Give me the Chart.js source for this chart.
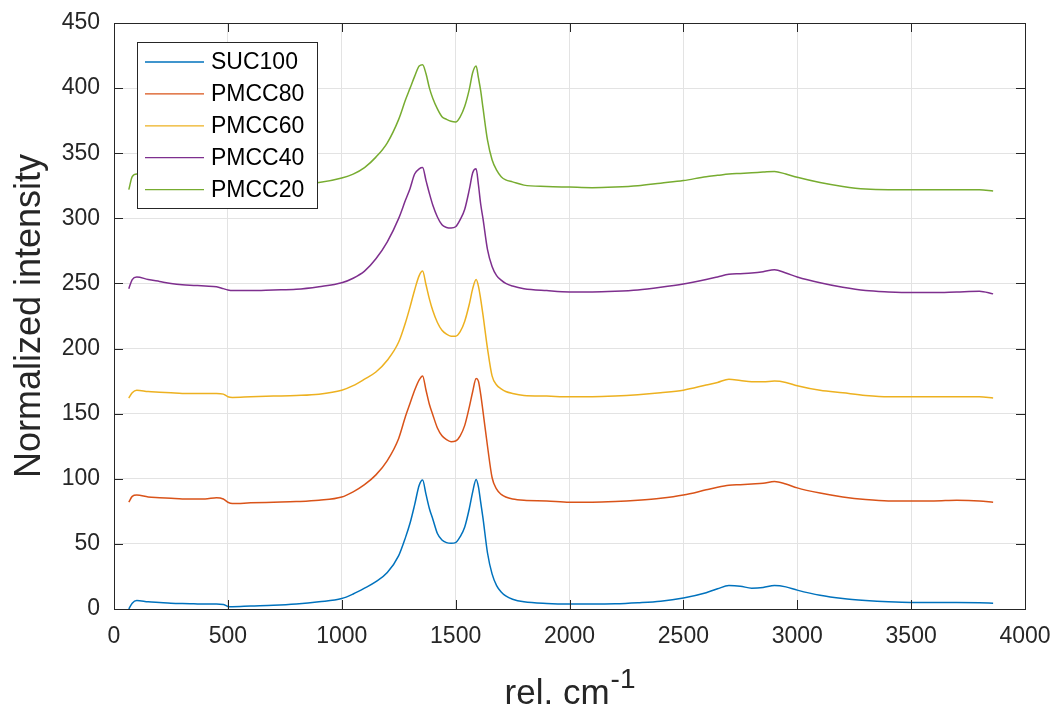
<!DOCTYPE html>
<html>
<head>
<meta charset="utf-8">
<title>Raman spectra</title>
<script src="https://cdn.jsdelivr.net/npm/chart.js@4.4.1/dist/chart.umd.min.js"></script>
<style>
  html, body { margin: 0; padding: 0; background: #fff; }
  canvas { display: block; }
</style>
</head>
<body>
<canvas id="myChart" width="1057" height="710"></canvas>
<script>
// wavenumber, rel. cm-1
var wavenumber = [
    65, 80, 100, 150, 200, 250, 300, 350, 400, 450,
    480, 500, 520, 600, 700, 800, 900, 1000, 1050, 1100,
    1150, 1200, 1250, 1280, 1300, 1320, 1340, 1355, 1370, 1385,
    1400, 1420, 1440, 1460, 1480, 1500, 1520, 1540, 1560, 1575,
    1590, 1600, 1610, 1620, 1640, 1660, 1680, 1700, 1720, 1750,
    1800, 1900, 2000, 2100, 2200, 2300, 2400, 2500, 2600, 2650,
    2700, 2750, 2800, 2850, 2900, 2950, 3000, 3100, 3200, 3300,
    3400, 3500, 3600, 3700, 3800, 3860
];

var suc100 = [
    0, 4.5, 6.5, 5.5, 5, 4.5, 4.2, 4, 3.8, 3.8,
    3.5, 2, 1.8, 2.3, 2.8, 3.8, 5.5, 8, 11.5, 16,
    21, 28, 41, 55, 66, 80, 95, 99, 88, 77,
    69, 58, 53, 51, 50.5, 51, 55.5, 63, 77, 90,
    99.5, 94, 82, 70, 43, 27, 18, 13, 10, 7.5,
    5.5, 4.2, 3.8, 3.8, 4, 4.8, 6, 8.5, 12.5, 15.5,
    18, 17.5, 16, 16.5, 18, 17, 14.5, 10.5, 8, 6.5,
    5.5, 5, 5, 5, 4.8, 4.5
];

var pmcc80 = [
    82, 86.5, 87.5, 86, 85.5, 85, 84.5, 84.5, 84.5, 85.5,
    84.5, 82, 81, 81.5, 82, 82.5, 83.5, 86, 90, 95.5,
    103, 114, 131, 148, 158, 168, 176, 179, 168, 157,
    149, 139, 133, 130, 128.5, 129, 133, 141, 155, 167,
    177, 175, 165, 152, 125, 101, 92, 88, 86, 84.5,
    83.5, 83, 82, 82, 82.5, 83.5, 85, 87.5, 91.5, 93.5,
    95, 95.5, 96, 96.5, 98, 96, 93, 89, 86, 84,
    83, 83, 83, 83.5, 83, 82
];

var pmcc60 = [
    162, 166, 168, 167, 166.5, 166, 165.5, 165.5, 165.5, 165.5,
    165, 163, 162.5, 163, 163.5, 164, 165, 168, 171.5, 176.5,
    182, 191, 205, 220, 232, 245, 256, 259.5, 249, 238,
    229, 220, 214, 211, 209.5, 209.5, 213, 221, 234, 246,
    253, 248, 238, 226, 200, 179, 172, 169, 167, 165.5,
    164, 163.5, 163, 163, 163.5, 164.5, 166, 168, 172, 174,
    176.5, 175.5, 174.5, 174.5, 175, 174, 171.5, 168, 166, 164,
    163, 163, 163, 163, 163, 162
];

var pmcc40 = [
    246, 253, 255, 253, 251.5, 250, 249, 248.5, 248, 247.5,
    246, 245, 244.5, 244.5, 245, 245.5, 247.5, 250.5, 254, 259.5,
    269, 282, 300, 314, 323, 334, 338, 339, 329, 319,
    310, 301, 295, 293, 292.5, 293.5, 299, 307, 322, 335,
    338, 326, 311, 300, 276, 263, 256, 252.5, 250, 248,
    246, 244.5, 243.5, 243.5, 244, 245, 247, 249.5, 253, 255,
    257, 257.5, 258, 259, 260.5, 258, 255, 250.5, 247, 244.5,
    243.5, 243, 243, 243.5, 244, 242
];

var pmcc20 = [
    322, 332, 334, 333, 331.5, 330, 329, 328.5, 328, 328,
    327, 326, 325.5, 325.5, 326, 326.5, 327.5, 331, 334, 339,
    347, 358, 376, 391, 400, 409, 417, 418, 411, 400,
    392, 384, 378, 376, 374.5, 374, 378, 386, 399, 412,
    417, 408, 398, 385, 360, 345, 337, 332, 329.5, 328,
    325.5, 324.5, 324, 323.5, 324, 325, 327, 329, 332, 333,
    334, 334.5, 335, 335.5, 336, 334, 331.5, 327.5, 324.5, 322.5,
    322, 322, 322, 322, 322, 321
];

var seriesNames = ['SUC100', 'PMCC80', 'PMCC60', 'PMCC40', 'PMCC20'];
var seriesColors = ['#0072BD', '#D95319', '#EDB120', '#7E2F8E', '#77AC30'];

var xTicks = [0, 500, 1000, 1500, 2000, 2500, 3000, 3500, 4000];
var yTicks = [0, 50, 100, 150, 200, 250, 300, 350, 400, 450];

var FONT = "'Liberation Sans', Arial, Helvetica, sans-serif";
var AXIS_COLOR = '#262626';

function toPoints(values) {
    return values.map(function(v, i) { return { x: wavenumber[i], y: v }; });
}

function fixedTicks(list) {
    return function(scale) {
        scale.ticks = list.map(function(v) { return { value: v }; });
    };
}

function plainLabel(value) {
    return String(value);
}

// box, inward tick marks, axis titles and the boxed legend, matlab style
var matlabFrame = {
    id: 'matlabFrame',
    beforeDraw: function(chart) {
        var ctx = chart.ctx;
        ctx.save();
        ctx.fillStyle = '#fff';
        ctx.fillRect(0, 0, chart.width, chart.height);
        ctx.restore();
    },
    afterDraw: function(chart) {
        var ctx = chart.ctx;
        var a = chart.chartArea;
        var xs = chart.scales.x, ys = chart.scales.y;
        var tick = 9;

        ctx.save();
        ctx.strokeStyle = AXIS_COLOR;
        ctx.lineWidth = 1;
        ctx.beginPath();
        xTicks.forEach(function(v) {
            var px = Math.round(xs.getPixelForValue(v)) + 0.5;
            ctx.moveTo(px, a.bottom); ctx.lineTo(px, a.bottom - tick);
            ctx.moveTo(px, a.top); ctx.lineTo(px, a.top + tick);
        });
        yTicks.forEach(function(v) {
            var py = Math.round(ys.getPixelForValue(v)) + 0.5;
            ctx.moveTo(a.left, py); ctx.lineTo(a.left + tick, py);
            ctx.moveTo(a.right, py); ctx.lineTo(a.right - tick, py);
        });
        ctx.stroke();
        ctx.strokeRect(Math.round(a.left) + 0.5, Math.round(a.top) + 0.5,
                       Math.round(a.right - a.left), Math.round(a.bottom - a.top));

        // y title
        ctx.fillStyle = AXIS_COLOR;
        ctx.font = '36px ' + FONT;
        ctx.save();
        ctx.translate(40, (a.top + a.bottom) / 2);
        ctx.rotate(-Math.PI / 2);
        ctx.textAlign = 'center';
        ctx.textBaseline = 'alphabetic';
        ctx.fillText('Normalized intensity', 0, 0);
        ctx.restore();

        // x title with superscript
        var main = 'rel. cm', sup = '-1';
        ctx.font = '35px ' + FONT;
        var w1 = ctx.measureText(main).width;
        ctx.font = '28px ' + FONT;
        var w2 = ctx.measureText(sup).width;
        var x0 = (a.left + a.right) / 2 - (w1 + w2) / 2;
        ctx.textAlign = 'left';
        ctx.textBaseline = 'alphabetic';
        ctx.font = '35px ' + FONT;
        ctx.fillText(main, x0, 704);
        ctx.font = '28px ' + FONT;
        ctx.fillText(sup, x0 + w1 + 1, 688);

        // legend
        var lx = 137.5, ly = 42.5, lw = 180, lh = 166;
        ctx.fillStyle = '#fff';
        ctx.fillRect(lx, ly, lw, lh);
        ctx.strokeStyle = AXIS_COLOR;
        ctx.lineWidth = 1;
        ctx.strokeRect(lx, ly, lw, lh);
        ctx.font = '23px ' + FONT;
        ctx.textBaseline = 'middle';
        chart.data.datasets.forEach(function(ds, i) {
            var cy = 62 + i * 31.9;
            ctx.strokeStyle = ds.borderColor;
            ctx.lineWidth = 1.3;
            ctx.beginPath();
            ctx.moveTo(145, cy);
            ctx.lineTo(204, cy);
            ctx.stroke();
            ctx.fillStyle = '#000';
            ctx.fillText(ds.label, 211, cy + 1);
        });
        ctx.restore();
    }
};

window.addEventListener('load', function() {
    var ctx = document.getElementById('myChart').getContext('2d');
    var allSeries = [suc100, pmcc80, pmcc60, pmcc40, pmcc20];

    var chart = new Chart(ctx, {
        type: 'line',
        data: {
            datasets: allSeries.map(function(values, i) {
                return {
                    label: seriesNames[i],
                    data: toPoints(values),
                    borderColor: seriesColors[i],
                    backgroundColor: seriesColors[i],
                    borderWidth: 1.5,
                    pointRadius: 0,
                    fill: false,
                    cubicInterpolationMode: 'monotone'
                };
            })
        },
        options: {
            responsive: false,
            animation: false,
            devicePixelRatio: 1,
            layout: { padding: { top: 23, right: 32, left: 0, bottom: 0 } },
            plugins: {
                legend: { display: false },
                tooltip: { enabled: false }
            },
            scales: {
                x: {
                    type: 'linear',
                    min: 0,
                    max: 4000,
                    afterBuildTicks: fixedTicks(xTicks),
                    afterFit: function(scale) {
                        scale.height = 101;
                        scale.paddingLeft = 0;
                        scale.paddingRight = 0;
                    },
                    grid: { color: '#e3e3e3', lineWidth: 1, drawTicks: false },
                    border: { display: false },
                    ticks: {
                        color: AXIS_COLOR,
                        padding: 14,
                        maxRotation: 0,
                        callback: plainLabel,
                        font: { family: FONT, size: 23 }
                    }
                },
                y: {
                    type: 'linear',
                    min: 0,
                    max: 450,
                    afterBuildTicks: fixedTicks(yTicks),
                    afterFit: function(scale) {
                        scale.width = 114;
                        scale.paddingTop = 0;
                        scale.paddingBottom = 0;
                    },
                    grid: { color: '#e3e3e3', lineWidth: 1, drawTicks: false },
                    border: { display: false },
                    ticks: {
                        color: AXIS_COLOR,
                        padding: 14,
                        callback: plainLabel,
                        font: { family: FONT, size: 23 }
                    }
                }
            }
        },
        plugins: [matlabFrame]
    });
});
</script>
</body>
</html>
